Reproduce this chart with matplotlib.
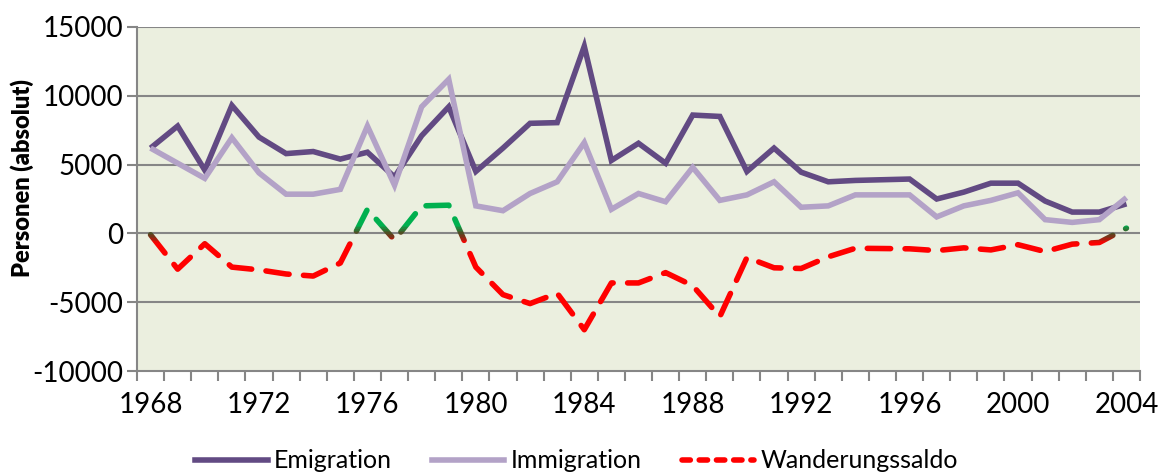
import numpy as np
import matplotlib
matplotlib.use("Agg")
import matplotlib.pyplot as plt
from matplotlib.patches import Rectangle
from matplotlib.lines import Line2D

years = list(range(1968, 2005))
emigration = [6200, 7800, 4600, 9300, 7000, 5800, 5950, 5400, 5900, 4100,
              7100, 9200, 4500, 6200, 8000, 8050, 13600, 5300, 6550, 5100,
              8600, 8500, 4500, 6200, 4450, 3750, 3850, 3900, 3950, 2500,
              3000, 3650, 3650, 2350, 1550, 1550, 2150]
immigration = [6200, 5100, 4000, 6950, 4400, 2850, 2850, 3200, 7800, 3500,
               9200, 11200, 2000, 1650, 2900, 3750, 6600, 1750, 2900, 2300,
               4800, 2400, 2800, 3750, 1900, 2000, 2800, 2800, 2800, 1200,
               2000, 2400, 2950, 1000, 800, 1000, 2600]
saldo = [-100, -2600, -750, -2450, -2650, -2950, -3100, -2150, 1750, -480,
         2000, 2050, -2450, -4450, -5100, -4350, -7000, -3600, -3600, -2850,
         -3800, -6050, -1750, -2500, -2550, -1700, -1080, -1100, -1120, -1250,
         -1050, -1200, -820, -1320, -780, -660, 380]
tick_years = list(range(1968, 2005, 4))

FONT = ["Lato", "DejaVu Sans"]
plt.rcParams['font.family'] = FONT

fig = plt.figure(figsize=(11.6, 4.75), dpi=100)
ax = fig.add_axes([137/1160, 1-371/475, (1140-137)/1160, (371-27)/475])
ax.set_facecolor("#EBEFDF")

x = np.arange(len(years))
ax.set_xlim(-0.5, len(years) - 0.5)
ax.set_ylim(-10000, 15000)

grid_c = "#868686"
for v in range(-5000, 15001, 5000):
    ax.axhline(v, color=grid_c, lw=1.5, zorder=1)

emi_c = "#624A83"
imm_c = "#B3A2C7"
lw = 4.0
ax.plot(x, emigration, color=emi_c, lw=lw, zorder=3, solid_joinstyle='miter', solid_capstyle='butt')
ax.plot(x, immigration, color=imm_c, lw=lw, zorder=3, solid_joinstyle='miter', solid_capstyle='butt')

# Saldo: dashed, red below zero, green above, with blended band
red = np.array([1.0, 0.0, 0.0])
green = np.array([0.0, 0.69, 0.31])
lo, hi = -700, 550
edges = np.linspace(lo, hi, 12)
bands = [(-20000, lo, red)]
for a, b in zip(edges[:-1], edges[1:]):
    t = ((a + b) / 2 - lo) / (hi - lo)
    col = red * (1 - t) + green * t
    col = col * (1 - 0.25 * np.sin(np.pi * t))
    bands.append((a, b, col))
bands.append((hi, 20000, green))
for a, b, col in bands:
    ln, = ax.plot(x, saldo, color=tuple(col), lw=4.0, zorder=4,
                  dashes=(4.2, 2.6), dash_capstyle='round', dash_joinstyle='round')
    clip = Rectangle((-1, a), len(years) + 2, b - a, transform=ax.transData)
    ln.set_clip_path(clip)

# x axis ticks: boundaries as major ticks, labels at category centers
ax.set_xticks(np.arange(-0.5, len(years), 1.0))
ax.set_xticklabels([])
ax.tick_params(axis='x', which='major', length=7, width=1.5, color=grid_c)
ax.set_xticks([years.index(y) for y in tick_years], minor=True)
ax.set_xticklabels([str(y) for y in tick_years], minor=True)
ax.tick_params(axis='x', which='minor', length=0, pad=15, labelsize=20)

ax.set_yticks(range(-10000, 15001, 5000))
ax.set_yticklabels([str(v) for v in range(-10000, 15001, 5000)])
ax.tick_params(axis='y', length=7, width=1.5, color=grid_c, labelsize=20, pad=3)

for s in ['top', 'right']:
    ax.spines[s].set_visible(False)
for s in ['left', 'bottom']:
    ax.spines[s].set_color(grid_c)
    ax.spines[s].set_linewidth(1.5)

fig.text(22/1160, 1 - 178/475, "Personen (absolut)", rotation=90, ha='center', va='center',
         fontsize=17, fontweight='heavy')

handles = [
    Line2D([], [], color=emi_c, lw=lw),
    Line2D([], [], color=imm_c, lw=lw),
    Line2D([], [], color="#FF0000", lw=4.0, dashes=(1.5, 1.6), dash_capstyle='round'),
]
fig.legend(handles, ["Emigration", "Immigration", "Wanderungssaldo"],
           loc='center', bbox_to_anchor=(0.497, 1 - 461/475), ncol=3, frameon=False,
           fontsize=18, handlelength=2.9, handletextpad=0.25, columnspacing=1.6)

fig.savefig("out.png", dpi=100)
